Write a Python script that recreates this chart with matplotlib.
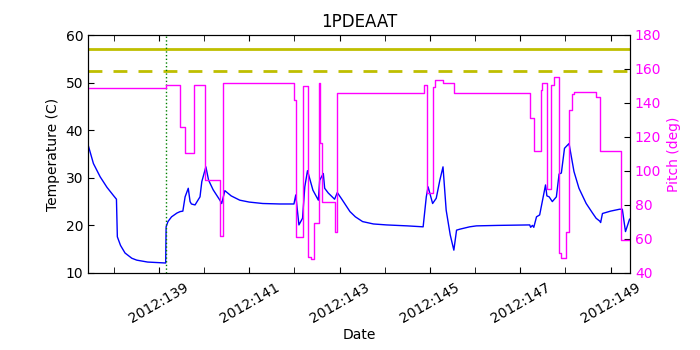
import matplotlib
matplotlib.use("Agg")
import matplotlib.pyplot as plt

# temperature trace (day of year 2012, deg C)
temp_day = [137.43, 137.55, 137.70, 137.85, 138.00, 138.06, 138.08, 138.15, 138.25, 138.40,
            138.51, 138.75, 139.15, 139.16, 139.20, 139.28, 139.40, 139.47, 139.53, 139.58,
            139.65, 139.69, 139.72, 139.80, 139.91, 139.95, 140.04, 140.10, 140.20, 140.35,
            140.39, 140.46, 140.60, 140.79, 141.00, 141.30, 141.68, 141.99, 142.03, 142.10,
            142.18, 142.23, 142.29, 142.41, 142.53, 142.56, 142.64, 142.67, 142.75, 142.89,
            142.95, 143.05, 143.23, 143.35, 143.51, 143.75, 144.04, 144.50, 144.85, 144.92,
            144.96, 145.06, 145.14, 145.22, 145.29, 145.36, 145.45, 145.53, 145.59, 145.66,
            145.88, 146.03, 146.50, 147.21, 147.23, 147.27, 147.30, 147.36, 147.43, 147.56,
            147.59, 147.64, 147.71, 147.80, 147.86, 147.91, 147.98, 148.08, 148.19, 148.30,
            148.46, 148.60, 148.68, 148.76, 148.78, 148.82, 149.00, 149.20, 149.26, 149.33,
            149.42]
temp_val = [37.0, 33.0, 30.2, 28.0, 26.2, 25.5, 17.6, 15.8, 14.2, 13.1,
            12.7, 12.3, 12.1, 19.7, 20.8, 21.8, 22.6, 22.9, 23.0, 26.0,
            27.8, 25.0, 24.5, 24.3, 26.0, 29.2, 32.3, 29.5, 27.5, 25.3,
            24.6, 27.3, 26.2, 25.3, 24.9, 24.6, 24.5, 24.5, 26.4, 20.1,
            21.5, 28.1, 31.5, 27.4, 25.3, 29.5, 30.9, 27.8, 26.8, 25.5,
            26.9, 25.5, 22.9, 21.8, 20.8, 20.3, 20.1, 19.9, 19.7, 26.0,
            28.1, 24.6, 25.7, 29.5, 32.3, 23.2, 18.0, 14.8, 19.0, 19.2,
            19.7, 19.9, 20.0, 20.1, 19.6, 20.0, 19.6, 21.8, 22.2, 28.5,
            26.2, 26.0, 25.0, 26.0, 30.8, 31.0, 36.2, 37.2, 31.3, 27.8,
            24.6, 22.6, 21.5, 20.9, 20.6, 22.5, 23.0, 23.4, 23.4, 18.7,
            21.3]

# pitch (step changes, deg)
pitch_day = [137.43, 139.16, 139.47, 139.58, 139.78, 140.02, 140.35, 140.42, 141.99, 142.04,
             142.19, 142.30, 142.36, 142.44, 142.54, 142.57, 142.61, 142.89, 142.95, 144.86,
             144.93, 145.06, 145.11, 145.28, 145.53, 147.22, 147.30, 147.45, 147.49, 147.59,
             147.67, 147.74, 147.86, 147.91, 148.01, 148.08, 148.15, 148.20, 148.68, 148.76,
             149.24, 149.42]
pitch_val = [148.6, 150.6, 126.1, 110.4, 150.8, 94.7, 61.8, 151.9, 141.8, 61.4,
             150.0, 49.6, 48.0, 69.2, 151.9, 116.3, 82.0, 64.3, 145.7, 150.6,
             86.9, 149.6, 153.5, 151.6, 146.1, 131.0, 112.0, 147.6, 151.9, 89.2,
             150.6, 155.5, 51.6, 49.0, 64.3, 135.9, 145.1, 146.5, 143.7, 112.0,
             59.4, 59.4]

planning_limit = 57.0
caution_limit = 52.4
now_day = 139.16

major_days = [139, 141, 143, 145, 147, 149]
minor_days = [138, 140, 142, 144, 146, 148]
day_labels = ["2012:%03d" % d for d in major_days]

fig = plt.figure(figsize=(7, 3.5), dpi=100)
ax1 = fig.add_axes([0.1257, 0.22, 0.7743, 0.68])
ax1.plot(temp_day, temp_val, color="#0000ff", lw=1)
ax1.axhline(planning_limit, color="#bfbf00", lw=2)
ax1.axhline(caution_limit, color="#bfbf00", lw=2, ls="--", dashes=(5, 4))
ax1.axvline(now_day, color="green", lw=1, ls=":")
ax1.set_xlim(137.43, 149.43)
ax1.set_ylim(10, 60)
ax1.set_yticks(range(10, 61, 10))
ax1.set_xticks(major_days)
ax1.set_xticklabels(day_labels, rotation=30, ha="center")
ax1.set_xticks(minor_days, minor=True)
ax1.tick_params(axis="both", which="both", direction="in", top=True, labelsize=10, length=4)
ax1.tick_params(axis="x", pad=5)
ax1.set_ylabel("Temperature (C)", fontsize=10)
ax1.set_xlabel("Date", fontsize=10, labelpad=2)
ax1.set_title("1PDEAAT", fontsize=12)

ax2 = ax1.twinx()
ax2.plot(pitch_day, pitch_val, color="#ff00ff", lw=1, drawstyle="steps-post")
ax2.set_ylim(40, 180)
ax2.set_yticks(range(40, 181, 20))
ax2.tick_params(axis="y", direction="in", colors="#ff00ff", labelsize=10, length=4)
ax2.tick_params(axis="y", color="black")
ax2.set_ylabel("Pitch (deg)", color="#ff00ff", fontsize=10)
ax2.set_xlim(137.43, 149.43)

fig.savefig("out.png", dpi=100)
